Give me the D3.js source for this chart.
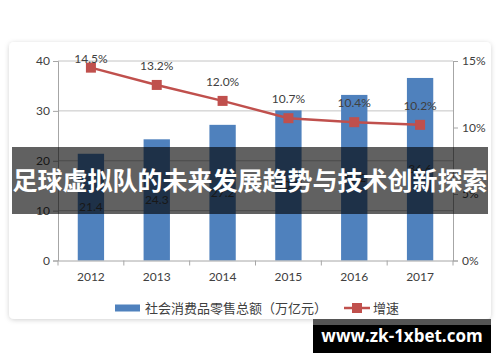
<!DOCTYPE html>
<html>
<head>
<meta charset="utf-8">
<script src="https://cdn.jsdelivr.net/npm/d3@7"></script>
<style>
  body { margin: 0; background: #fff; }
  svg { display: block; }
  .lbl { font-family: Lato, "Noto Sans CJK SC", sans-serif; font-size: 12px; fill: #404040; }
  .cjk { font-family: "Noto Sans CJK SC", sans-serif; font-size: 13px; fill: #404040; }
</style>
</head>
<body>
<script>
var years = ["2012", "2013", "2014", "2015", "2016", "2017"];
var sales = [21.4, 24.3, 27.2, 30.1, 33.2, 36.6];
var growth = [14.5, 13.2, 12.0, 10.7, 10.4, 10.2];
var leftTicks = [0, 10, 20, 30, 40];
var rightTicks = [0, 5, 10, 15];
var legendBar = "社会消费品零售总额（万亿元）";
var legendLine = "增速";
var title = "足球虚拟队的未来发展趋势与技术创新探索";
var site = "www.zk-1xbet.com";

var W = 500, H = 362;
var svg = d3.select("body").append("svg").attr("width", W).attr("height", H);

// card with soft shadow
var defs = svg.append("defs");
var f = defs.append("filter").attr("id", "sh").attr("x", "-5%").attr("y", "-5%").attr("width", "110%").attr("height", "110%");
f.append("feDropShadow").attr("dx", 0).attr("dy", 1).attr("stdDeviation", 2.5).attr("flood-color", "#000").attr("flood-opacity", 0.18);
svg.append("rect").attr("x", 9).attr("y", 42).attr("width", 482).attr("height", 277)
  .attr("rx", 5).attr("fill", "#fff").attr("filter", "url(#sh)");

var x0 = 58, x1 = 453, yTop = 61, yBot = 260.5;
var x = d3.scaleBand().domain(years).range([x0, x1]);
var y = d3.scaleLinear().domain([0, 40]).range([yBot, yTop]);
var y2 = d3.scaleLinear().domain([0, 15]).range([yBot, yTop]);

// gridlines
svg.selectAll(".grid").data(leftTicks.filter(function(d){ return d > 0; })).enter().append("line")
  .attr("x1", x0).attr("x2", x1)
  .attr("y1", function(d){ return y(d); }).attr("y2", function(d){ return y(d); })
  .attr("stroke", "#c4c4c4").attr("stroke-width", 1);

// left axis
var gl = svg.append("g").attr("transform", "translate(" + x0 + ",0)")
  .call(d3.axisLeft(y).tickValues(leftTicks).tickSize(5).tickPadding(3));
// right axis
var gr = svg.append("g").attr("transform", "translate(" + x1 + ",0)")
  .call(d3.axisRight(y2).tickValues(rightTicks).tickSize(5).tickPadding(4)
    .tickFormat(function(d){ return d + "%"; }));
[gl, gr].forEach(function(g){
  g.select(".domain").attr("stroke", "#a6a6a6");
  g.selectAll(".tick line").attr("stroke", "#a6a6a6");
  g.selectAll("text").attr("class", "lbl").attr("font-family", null).attr("font-size", null).attr("fill", null);
});

// bars
svg.selectAll(".bar").data(sales).enter().append("rect")
  .attr("x", function(d, i){ return x(years[i]) + x.bandwidth() * 0.3; })
  .attr("width", x.bandwidth() * 0.4)
  .attr("y", function(d){ return y(d); })
  .attr("height", function(d){ return yBot - y(d); })
  .attr("fill", "#4f81bd");
svg.selectAll(".barlbl").data(sales).enter().append("text")
  .attr("class", "lbl")
  .attr("x", function(d, i){ return x(years[i]) + x.bandwidth() / 2; })
  .attr("y", function(d){ return (y(d) + yBot) / 2 + 4; })
  .attr("text-anchor", "middle")
  .text(function(d){ return d.toFixed(1); });

// x axis
var gx = svg.append("g").attr("transform", "translate(0," + yBot + ")")
  .call(d3.axisBottom(x).tickSize(0).tickPadding(12));
gx.select(".domain").attr("stroke", "#a6a6a6");
gx.selectAll("text").attr("class", "lbl").attr("font-family", null).attr("font-size", null).attr("fill", null);
svg.selectAll(".xt").data(years.concat([""])).enter().append("line")
  .attr("x1", function(d, i){ return x0 + i * x.step(); })
  .attr("x2", function(d, i){ return x0 + i * x.step(); })
  .attr("y1", yBot).attr("y2", yBot + 5).attr("stroke", "#a6a6a6");

// growth line
var cx = function(d, i){ return x(years[i]) + x.bandwidth() / 2; };
svg.append("path").datum(growth)
  .attr("d", d3.line().x(cx).y(function(d){ return y2(d); }))
  .attr("fill", "none").attr("stroke", "#c0504d").attr("stroke-width", 2.5);
svg.selectAll(".mk").data(growth).enter().append("rect")
  .attr("x", function(d, i){ return cx(d, i) - 5; })
  .attr("y", function(d){ return y2(d) - 5; })
  .attr("width", 10).attr("height", 10).attr("fill", "#c0504d");
svg.selectAll(".gl").data(growth).enter().append("text")
  .attr("class", "lbl")
  .attr("x", cx)
  .attr("y", function(d){ return Math.max(y2(d) - 15, 63); })
  .attr("text-anchor", "middle")
  .text(function(d){ return d.toFixed(1) + "%"; });

// legend
var ly = 308;
svg.append("rect").attr("x", 115).attr("y", ly - 3.5).attr("width", 25).attr("height", 7).attr("fill", "#4f81bd");
svg.append("text").attr("class", "cjk").attr("x", 145).attr("y", ly + 4.5).text(legendBar);
svg.append("line").attr("x1", 344).attr("x2", 370).attr("y1", ly).attr("y2", ly)
  .attr("stroke", "#c0504d").attr("stroke-width", 2.5);
svg.append("rect").attr("x", 352).attr("y", ly - 5).attr("width", 10).attr("height", 10).attr("fill", "#c0504d");
svg.append("text").attr("class", "cjk").attr("x", 373).attr("y", ly + 4.5).text(legendLine);

// overlay banner
svg.append("rect").attr("x", 12).attr("y", 147).attr("width", 476).attr("height", 67)
  .attr("fill", "#000").attr("fill-opacity", 0.62);
svg.append("text").attr("x", 250).attr("y", 190)
  .attr("text-anchor", "middle")
  .attr("font-family", "'Noto Sans CJK SC', sans-serif").attr("font-weight", "bold")
  .attr("font-size", 25).attr("fill", "#fff")
  .text(title);

// watermark
svg.append("rect").attr("x", 313).attr("y", 319).attr("width", 178).attr("height", 34).attr("fill", "#000");
svg.append("rect").attr("x", 313).attr("y", 319).attr("width", 178).attr("height", 6).attr("fill", "#555");
svg.append("text").attr("x", 402).attr("y", 342)
  .attr("text-anchor", "middle")
  .attr("font-family", "'Open Sans', sans-serif").attr("font-weight", "bold")
  .attr("font-size", 17).attr("fill", "#fff")
  .text(site);
</script>
</body>
</html>
